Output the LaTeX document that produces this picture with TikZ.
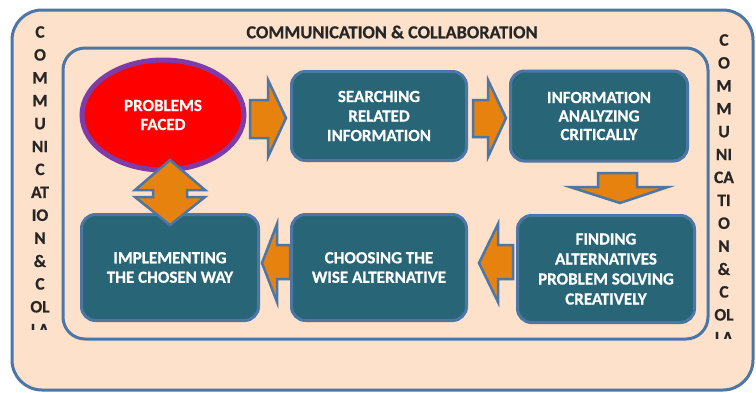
\documentclass[tikz,border=0pt]{standalone}
\usepackage{fontspec}
\setmainfont[BoldFeatures={FakeBold=0.6}]{Carlito}
\definecolor{peach}{HTML}{FDE1CA}
\definecolor{frameblue}{HTML}{4C76A6}
\definecolor{teal}{HTML}{286677}
\definecolor{arroworange}{HTML}{E8820E}
\definecolor{ellpurple}{HTML}{7E3CA8}
\definecolor{ellred}{HTML}{FF0000}
\usetikzlibrary{shapes.geometric}
\begin{document}
\begin{tikzpicture}[x=1pt,y=-1pt,
  frame/.style={draw=frameblue, line width=3pt, fill=peach},
  stepbox/.style={draw=frameblue, line width=3pt, fill=teal, rounded corners=14pt,
    text=white, font=\fontsize{17}{19.5}\selectfont\bfseries, align=center, inner sep=0pt},
  blockarrow/.style={draw=frameblue, line width=2.5pt, fill=arroworange, line join=miter},
  vlet/.style={font=\fontsize{17.5}{20}\selectfont\bfseries, inner sep=0pt, text=black!85}
]
\useasboundingbox (0,0) rectangle (756,392);
\fill[white] (0,0) rectangle (756,392);
% frames
\path[frame, rounded corners=30pt] (12,10) rectangle (753,390);
\path[frame, rounded corners=22pt] (63,48) rectangle (708,339);
% title
\node[font=\fontsize{18.3}{20}\selectfont\bfseries, text=black!85, inner sep=0pt] (title) at (392,32) {COMMUNICATION \& COLLABORATION};
% vertical texts
\begin{scope}
\clip (14,12) rectangle (62,329);
\foreach \t [count=\i from 0] in {C,O,M,M,U,NI,C,AT,IO,N,\&,C,OL,LA}
  \node[vlet] (l\i) at (40,32+22.9*\i) {\t};
\end{scope}
\begin{scope}
\clip (709,12) rectangle (751,338);
\foreach \t [count=\i from 0] in {C,O,M,M,U,NI,CA,TI,O,N,\&,C,OL,LA}
  \node[vlet] (r\i) at (724,40+22.9*\i) {\t};
\end{scope}
% ellipse
\node[ellipse, draw=ellpurple, line width=5pt, fill=ellred, minimum width=162pt, minimum height=110pt,
  text=white, font=\fontsize{17}{19}\selectfont\bfseries, align=center, inner sep=0pt]
  (prob) at (163,115) {PROBLEMS\\FACED};
% boxes
\node[stepbox, minimum width=175pt, minimum height=89pt] (srch) at (379,116) {SEARCHING\\RELATED\\INFORMATION};
\node[stepbox, minimum width=177pt, minimum height=90pt, font=\fontsize{17}{18.5}\selectfont\bfseries] (info) at (599,116) {INFORMATION\\ANALYZING\\CRITICALLY};
\node[stepbox, minimum width=177pt, minimum height=106pt] (impl) at (170,267.5) {IMPLEMENTING\\THE CHOSEN WAY};
\node[stepbox, minimum width=175pt, minimum height=106pt] (choose) at (379,267.5) {CHOOSING THE\\WISE ALTERNATIVE};
\node[stepbox, minimum width=177pt, minimum height=107pt, font=\fontsize{17}{20}\selectfont\bfseries] (find) at (606,269) {FINDING\\ALTERNATIVES\\PROBLEM SOLVING\\CREATIVELY};
% block arrows
\path[blockarrow] (250,100) -- (268,100) -- (268,80) -- (286,118) -- (268,157) -- (268,138) -- (250,138) -- cycle;
\path[blockarrow] (473,100) -- (488,100) -- (488,80) -- (506,118) -- (488,157) -- (488,137) -- (473,137) -- cycle;
\path[blockarrow] (598,173) -- (637,173) -- (637,187) -- (668,187) -- (620,203) -- (570,187) -- (598,187) -- cycle;
\path[blockarrow] (513,245) -- (498,245) -- (498,224) -- (479,263) -- (498,302) -- (498,279) -- (513,279) -- cycle;
\path[blockarrow] (290,245) -- (277,245) -- (277,224) -- (262,263) -- (277,302) -- (277,279) -- (290,279) -- cycle;
\path[blockarrow] (170,160) -- (205,190) -- (187,190) -- (187,197) -- (205,197) -- (170,225) -- (135,197) -- (153,197) -- (153,190) -- (135,190) -- cycle;
\end{tikzpicture}
\end{document}
